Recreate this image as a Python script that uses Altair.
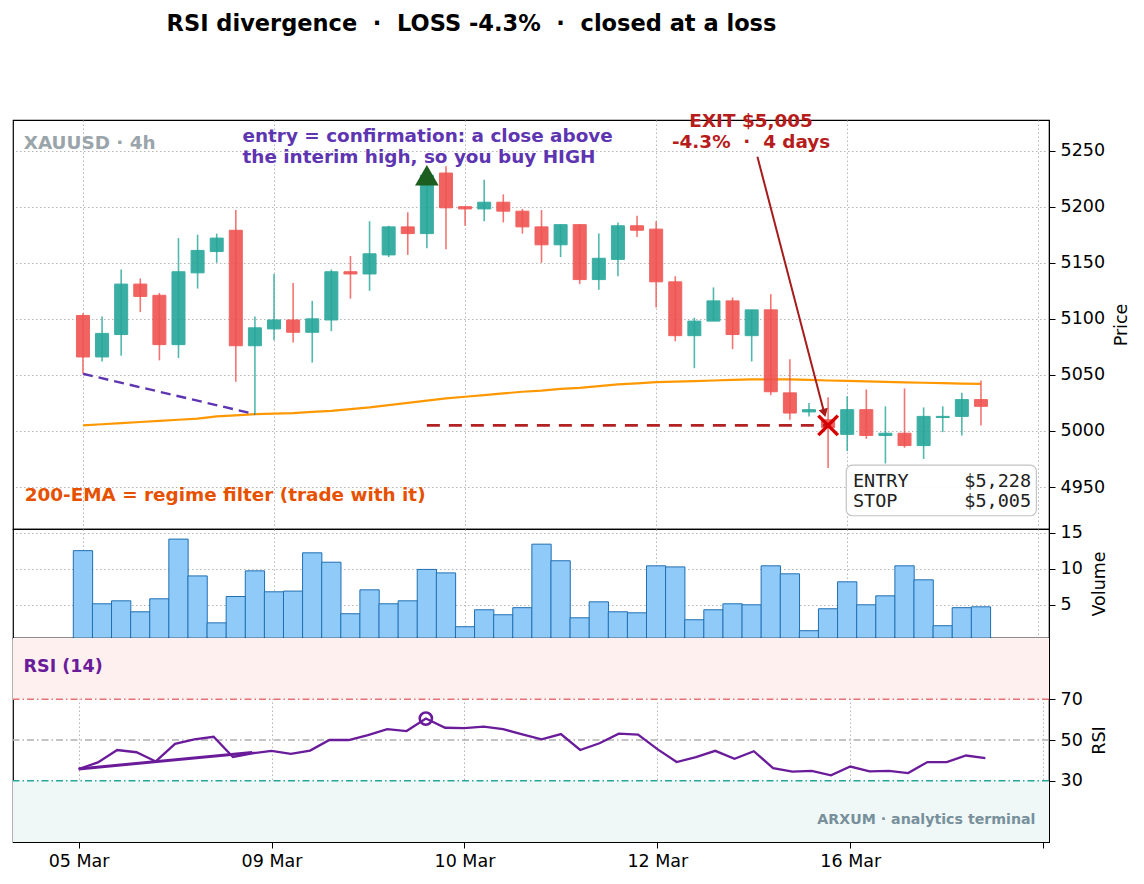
import altair as alt
import numpy as np
import pandas as pd

# ---------------- data ----------------
opens  = [5103, 5066, 5086, 5131, 5121, 5077, 5141, 5160, 5179, 5076, 5091, 5099,
          5088, 5099, 5142, 5140, 5157, 5182, 5176, 5230, 5200, 5198, 5204, 5196,
          5182, 5166, 5184, 5135, 5153, 5183, 5180, 5133, 5085, 5098, 5116, 5085,
          5108, 5034, 5017, 5010, 4997, 5019, 4996, 4998, 4987, 5012, 5013, 5028]
highs  = [5105, 5102, 5144, 5136, 5123, 5172, 5175, 5176, 5197, 5102, 5140, 5132,
          5116, 5144, 5156, 5187, 5183, 5195, 5232, 5236, 5200, 5224, 5211, 5198,
          5197, 5184, 5184, 5176, 5186, 5192, 5187, 5138, 5101, 5128, 5119, 5108,
          5122, 5064, 5025, 5030, 5031, 5037, 5022, 5038, 5021, 5022, 5034, 5045]
lows   = [5051, 5062, 5067, 5106, 5063, 5065, 5127, 5150, 5044, 5015, 5081, 5079,
          5061, 5089, 5118, 5125, 5155, 5157, 5163, 5162, 5183, 5187, 5186, 5176,
          5150, 5155, 5131, 5126, 5138, 5173, 5110, 5080, 5056, 5098, 5073, 5062,
          5032, 5010, 5013, 4967, 4982, 4993, 4971, 4985, 4975, 4999, 4996, 5005]
closes = [5066, 5087, 5131, 5120, 5077, 5142, 5161, 5172, 5076, 5092, 5099, 5088,
          5100, 5142, 5140, 5158, 5182, 5176, 5228, 5199, 5198, 5204, 5196, 5182,
          5166, 5184, 5135, 5154, 5183, 5179, 5133, 5085, 5098, 5116, 5086, 5108,
          5035, 5016, 5019, 5003, 5019, 4996, 4998, 4987, 5013, 5013, 5028, 5022]
ema200 = [5005, 5006, 5007, 5008, 5009, 5010, 5011, 5013, 5014, 5015, 5015.5, 5016,
          5017, 5018, 5019.5, 5021, 5023, 5025, 5027, 5029, 5030.5, 5032, 5033.5, 5035,
          5036, 5037.5, 5038.5, 5040, 5041.5, 5042.5, 5043.5, 5044, 5044.5, 5045, 5045.5, 5046,
          5046, 5046, 5045.5, 5045, 5044.6, 5044.2, 5043.8, 5043.3, 5043, 5042.6, 5042.3, 5042]
volumes = [12.5, 5.14, 5.55, 4.03, 5.83, 14.1, 9.0, 2.5, 6.15, 9.7, 6.8, 6.9,
           12.2, 10.9, 3.76, 7.07, 5.14, 5.55, 9.9, 9.42, 1.96, 4.31, 3.62, 4.6,
           13.4, 11.1, 3.2, 5.41, 4.03, 3.89, 10.4, 10.25, 2.93, 4.31, 5.14, 5.0,
           10.4, 9.29, 1.41, 4.45, 8.18, 5.0, 6.24, 10.4, 8.46, 2.1, 4.6, 4.72]
rsi14 = [35.8, 39.0, 45.1, 44.0, 39.5, 48.1, 50.3, 51.6, 41.7, 43.5, 44.7, 43.2,
         44.8, 50.0, 50.0, 52.4, 55.3, 54.4, 60.5, 56.0, 55.8, 56.6, 55.3, 52.8,
         50.3, 52.9, 45.1, 48.4, 53.1, 52.6, 45.5, 39.2, 41.6, 44.7, 40.8, 44.5,
         36.2, 34.5, 34.9, 32.7, 37.0, 34.6, 34.9, 33.8, 39.2, 39.2, 42.4, 41.1]

tick_pos = [0, 10, 20, 30, 40, 50]
tick_lab = ["05 Mar", "09 Mar", "10 Mar", "12 Mar", "16 Mar", ""]

price_ticks = [4950, 5000, 5050, 5100, 5150, 5200, 5250]
vol_ticks = [5, 10, 15]
rsi_ticks = [30, 50, 70]

entry_idx, entry_px = 18, 5228
exit_idx, exit_px = 39, 5005
pdiv_idx, pdiv_px = [0, 9], [5051, 5015]
rdiv_idx, rdiv_val = [0, 9], [35.8, 43.9]
arrow_idx, arrow_px = [35.3, 38.8], [5244.6, 5016]

NB = "\u00a0"
TITLE = f"RSI divergence {NB}·{NB} LOSS -4.3% {NB}·{NB} closed at a loss"
EXIT_L1 = "EXIT $5,005"
EXIT_L2 = f"-4.3% {NB}·{NB} 4 days"
BOX_L1 = "ENTRY" + NB * 5 + "$5,228"
BOX_L2 = "STOP" + NB * 6 + "$5,005"

# ---------------- styling ----------------
UP, DOWN = "#26a69a", "#ef5350"
FONT = "DejaVu Sans"
W = 1036
XDOM = [-3.4, 50.3]
GRID = dict(gridDash=[1.5, 2.5], gridColor="#b5b5b5", gridWidth=1)
AX = dict(titleAngle=270, titleBaseline="top", titlePadding=8, labelPadding=5)

df = pd.DataFrame({"i": list(range(len(opens))), "open": opens, "high": highs,
                   "low": lows, "close": closes, "ema": ema200, "vol": volumes,
                   "rsi": rsi14})
df["dir"] = np.where(df["close"] >= df["open"], "up", "down")
df["blo"] = df[["open", "close"]].min(axis=1)
df["bhi"] = df[["open", "close"]].max(axis=1)

xscale = alt.Scale(domain=XDOM, nice=False, zero=False)
x_hidden = alt.X("i:Q", scale=xscale,
                 axis=alt.Axis(values=tick_pos, labels=False, ticks=False, domain=False,
                               title=None, grid=True, **GRID))
color = alt.Color("dir:N", scale=alt.Scale(domain=["up", "down"], range=[UP, DOWN]),
                  legend=None)

pscale = alt.Scale(domain=[4912.6, 5277.3], nice=False, zero=False)
p_axis = alt.Axis(orient="right", values=price_ticks, title="Price", grid=True,
                  format="d", **AX, **GRID)

base = alt.Chart(df)

ema_line = base.mark_line(color="#ff9800", strokeWidth=2.2).encode(
    x=x_hidden, y=alt.Y("ema:Q", scale=pscale, axis=p_axis))
wicks = base.mark_rule(strokeWidth=1.6, opacity=0.8).encode(
    x="i:Q", y="low:Q", y2="high:Q", color=color)
bodies = base.mark_bar(size=13, opacity=0.9, strokeWidth=1).encode(
    x="i:Q", y="blo:Q", y2="bhi:Q", color=color, stroke=color)

pdiv = alt.Chart(pd.DataFrame({"i": pdiv_idx, "p": pdiv_px})).mark_line(
    color="#5e35b1", strokeWidth=2.4, strokeDash=[10, 6]).encode(x="i:Q", y="p:Q")
stop_line = alt.Chart(pd.DataFrame({"i": [entry_idx, exit_idx], "p": [exit_px, exit_px]})).mark_line(
    color="#b22222", strokeWidth=2.8, strokeDash=[13, 9]).encode(x="i:Q", y="p:Q")
entry_mk = alt.Chart(pd.DataFrame({"i": [entry_idx], "p": [entry_px]})).mark_point(
    shape="triangle-up", size=560, filled=True, color="#1b5e20", opacity=1).encode(
    x="i:Q", y="p:Q")
exit_mk = alt.Chart(pd.DataFrame({"i": [exit_idx], "p": [exit_px]})).mark_point(
    shape="M-1,-1L1,1M-1,1L1,-1", size=380, filled=False, color="#d50000",
    strokeWidth=3.5, opacity=1).encode(x="i:Q", y="p:Q")
arrow_df = pd.DataFrame({"i": arrow_idx, "p": arrow_px})
arrow_line = alt.Chart(arrow_df).mark_line(color="#a61c1c", strokeWidth=2).encode(
    x="i:Q", y="p:Q")
arrow_head = alt.Chart(arrow_df.tail(1)).mark_point(
    shape="triangle-down", size=90, filled=True, color="#a61c1c", angle=345,
    opacity=1).encode(x="i:Q", y="p:Q")


def label(txt_rows, color_, size, align="left", weight="bold", font=FONT, yfield="p"):
    d = pd.DataFrame(txt_rows, columns=["i", yfield, "t"])
    return alt.Chart(d).mark_text(align=align, baseline="middle", fontSize=size,
                                  fontWeight=weight, font=font, color=color_).encode(
        x="i:Q", y=f"{yfield}:Q", text="t:N")


t_sym = label([(-3.1, 5256.5, "XAUUSD · 4h")], "#9aa4ab", 18.4)
t_entry = label([(8.35, 5263.0, "entry = confirmation: a close above"),
                 (8.35, 5244.5, "the interim high, so you buy HIGH")], "#5e35b1", 18.4)
t_ema = label([(-3.05, 4943.0, "200-EMA = regime filter (trade with it)")], "#e65100", 18.4)
t_exit = label([(34.97, 5276.5, EXIT_L1),
                (34.97, 5257.8, EXIT_L2)], "#b71c1c", 18.4, align="center")

box = alt.Chart(pd.DataFrame({"x1": [39.95], "x2": [49.9], "y1": [4924.4], "y2": [4969.6]})).mark_rect(
    fill="white", fillOpacity=0.9, stroke="#c4c4c4", strokeWidth=1.2, cornerRadius=6).encode(
    x="x1:Q", x2="x2:Q", y="y1:Q", y2="y2:Q")
t_box = label([(40.3, 4955.5, BOX_L1),
               (40.3, 4937.6, BOX_L2)], "#222222", 18.5,
              weight="normal", font="DejaVu Sans Mono")

price = alt.layer(ema_line, pdiv, wicks, bodies, stop_line, arrow_line, arrow_head,
                  entry_mk, exit_mk, t_sym, t_entry, t_ema, t_exit, box, t_box).properties(
    width=W, height=409)

# ---------------- volume ----------------
vol = base.mark_bar(size=19.3, fill="#90caf9", stroke="#1f6fb2", strokeWidth=1,
                    clip=True).encode(
    x=x_hidden,
    y=alt.Y("vol:Q", scale=alt.Scale(domain=[0.4, 15.5], nice=False, zero=False),
            axis=alt.Axis(orient="right", values=vol_ticks, title="Volume", grid=True,
                          **AX, **GRID))).properties(width=W, height=109)

# ---------------- RSI ----------------
rscale = alt.Scale(domain=[0, 100], nice=False, zero=False)
expr = " : ".join([f"datum.value == {p} ? '{l}'" for p, l in zip(tick_pos, tick_lab)]) + " : ''"
x_bottom = alt.X("i:Q", scale=xscale,
                 axis=alt.Axis(values=tick_pos, labelExpr=expr, title=None, grid=True,
                               tickSize=6, labelPadding=4, **GRID))

bands = alt.Chart(pd.DataFrame({"lo": [70, 0], "hi": [100, 30], "c": ["#fff0f0", "#eff8f6"]})).mark_rect().encode(
    y=alt.Y("lo:Q", scale=rscale), y2="hi:Q", color=alt.Color("c:N", scale=None))
levels = alt.Chart(pd.DataFrame({"v": [70, 50, 30], "c": ["#e57373", "#b0b0b0", "#26a69a"]})).mark_rule(
    strokeWidth=1.6, strokeDash=[7, 3, 1.5, 3]).encode(
    y="v:Q", color=alt.Color("c:N", scale=None))
rsi_line = base.mark_line(color="#6a1b9a", strokeWidth=2.3).encode(
    x=x_bottom,
    y=alt.Y("rsi:Q", scale=rscale,
            axis=alt.Axis(orient="right", values=rsi_ticks, title="RSI", grid=False, **AX)))
rdiv = alt.Chart(pd.DataFrame({"i": rdiv_idx, "r": rdiv_val})).mark_line(
    color="#6a1b9a", strokeWidth=3).encode(x="i:Q", y="r:Q")
rmark = alt.Chart(pd.DataFrame({"i": [entry_idx], "r": [rsi14[entry_idx]]})).mark_point(
    shape="circle", size=150, filled=False, strokeWidth=2.6, color="#6a1b9a", opacity=1).encode(
    x="i:Q", y="r:Q")
t_rsi = label([(-2.85, 85.6, "RSI (14)")], "#6a1b9a", 17.5, yfield="r")
t_brand = label([(49.6, 10.8, "ARXUM · analytics terminal")], "#78909c", 14.2,
                align="right", yfield="r")

rsi_panel = alt.layer(bands, levels, rsi_line, rdiv, rmark, t_rsi, t_brand).properties(
    width=W, height=204)

chart = alt.vconcat(price, vol, rsi_panel, spacing=0, bounds="flush").properties(
    title=alt.TitleParams(TITLE, fontSize=22.5, fontWeight="bold", font=FONT, color="black",
                          anchor="start", dx=155, offset=76),
    padding={"left": 11, "top": 12, "right": 5, "bottom": 5},
).configure_view(stroke="black", strokeWidth=1.2).configure_axis(
    labelFont=FONT, titleFont=FONT, labelFontSize=17.5, titleFontSize=17.5,
    titleFontWeight="normal", labelColor="black", titleColor="black",
    tickColor="black", domainColor="black", tickSize=6,
).configure_concat(spacing=0)

chart.save("out.html", embed_options={"renderer": "svg", "actions": False})
